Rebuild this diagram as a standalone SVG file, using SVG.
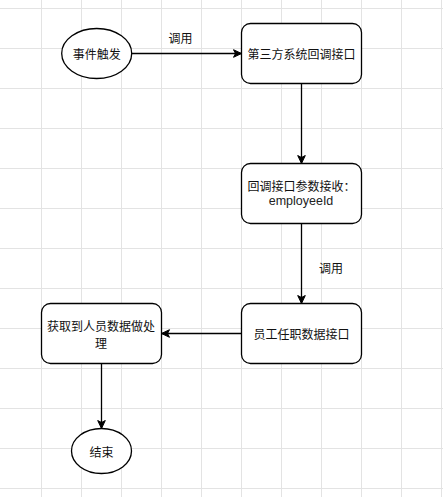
<svg xmlns="http://www.w3.org/2000/svg" width="443" height="497" viewBox="0 0 443 497">
  <style>
    .grid line { stroke: #e3e3e3; stroke-width: 1; }
    .node { fill: #ffffff; stroke: #000000; stroke-width: 1.3; }
    .lbl { font-family: "Microsoft YaHei", "Noto Sans CJK SC", "Liberation Sans", sans-serif; font-size: 12px; fill: #111111; text-anchor: middle; dominant-baseline: central; }
    .en { font-family: "Liberation Sans", Arial, sans-serif; font-size: 12.5px; fill: #222222; }
    .edge { fill: none; stroke: #000000; stroke-width: 1.3; }
  </style>
  <defs>
    <marker id="arrow" markerUnits="userSpaceOnUse" markerWidth="10" markerHeight="10" viewBox="0 0 10 10" refX="9" refY="5" orient="auto">
      <path d="M1,1.2 L9,5 L1,8.8 L3,5 Z" fill="#000000" stroke="#000000" stroke-width="1"/>
    </marker>
  </defs>
  <rect width="443" height="497" fill="#ffffff"/>
  <g class="grid">
    <line x1="41.5" y1="0" x2="41.5" y2="497"/>
    <line x1="81.5" y1="0" x2="81.5" y2="497"/>
    <line x1="121.5" y1="0" x2="121.5" y2="497"/>
    <line x1="161.5" y1="0" x2="161.5" y2="497"/>
    <line x1="201.5" y1="0" x2="201.5" y2="497"/>
    <line x1="241.5" y1="0" x2="241.5" y2="497"/>
    <line x1="281.5" y1="0" x2="281.5" y2="497"/>
    <line x1="321.5" y1="0" x2="321.5" y2="497"/>
    <line x1="361.5" y1="0" x2="361.5" y2="497"/>
    <line x1="401.5" y1="0" x2="401.5" y2="497"/>
    <line x1="441.5" y1="0" x2="441.5" y2="497"/>
    <line x1="0" y1="8.5" x2="443" y2="8.5"/>
    <line x1="0" y1="48.5" x2="443" y2="48.5"/>
    <line x1="0" y1="88.5" x2="443" y2="88.5"/>
    <line x1="0" y1="128.5" x2="443" y2="128.5"/>
    <line x1="0" y1="168.5" x2="443" y2="168.5"/>
    <line x1="0" y1="208.5" x2="443" y2="208.5"/>
    <line x1="0" y1="248.5" x2="443" y2="248.5"/>
    <line x1="0" y1="288.5" x2="443" y2="288.5"/>
    <line x1="0" y1="328.5" x2="443" y2="328.5"/>
    <line x1="0" y1="368.5" x2="443" y2="368.5"/>
    <line x1="0" y1="408.5" x2="443" y2="408.5"/>
    <line x1="0" y1="448.5" x2="443" y2="448.5"/>
    <line x1="0" y1="488.5" x2="443" y2="488.5"/>
  </g>
  <g id="connectors">
    <line class="edge" x1="131.7" y1="53.5" x2="241.5" y2="53.5" marker-end="url(#arrow)"/>
    <line class="edge" x1="301.5" y1="83.5" x2="301.5" y2="163.5" marker-end="url(#arrow)"/>
    <line class="edge" x1="301.5" y1="223.5" x2="301.5" y2="303.5" marker-end="url(#arrow)"/>
    <line class="edge" x1="241.5" y1="333.5" x2="161.5" y2="333.5" marker-end="url(#arrow)"/>
    <line class="edge" x1="101.5" y1="363.5" x2="101.5" y2="428.5" marker-end="url(#arrow)"/>
    <text class="lbl" x="180.5" y="37.5">调用</text>
    <text class="lbl" x="331" y="267.5">调用</text>
  </g>
  <g id="start">
    <ellipse class="node" cx="96.7" cy="53.5" rx="35" ry="25"/>
    <text class="lbl" x="96.7" y="53.5">事件触发</text>
  </g>
  <g id="callback">
    <rect class="node" x="241.5" y="23.5" width="120" height="60" rx="9" ry="9"/>
    <text class="lbl" x="301.5" y="53.5">第三方系统回调接口</text>
  </g>
  <g id="params">
    <rect class="node" x="241.5" y="163.5" width="120" height="60" rx="9" ry="9"/>
    <text class="lbl" x="301.5" y="185">回调接口参数接收：</text>
    <text class="lbl en" x="301" y="201">employeeId</text>
  </g>
  <g id="employee">
    <rect class="node" x="241.5" y="303.5" width="120" height="60" rx="9" ry="9"/>
    <text class="lbl" x="301.5" y="333">员工任职数据接口</text>
  </g>
  <g id="process">
    <rect class="node" x="41.5" y="303.5" width="120" height="60" rx="9" ry="9"/>
    <text class="lbl" x="101" y="325">获取到人员数据做处</text>
    <text class="lbl" x="101" y="342">理</text>
  </g>
  <g id="end">
    <ellipse class="node" cx="101.5" cy="451" rx="30" ry="22.5"/>
    <text class="lbl" x="101.5" y="451">结束</text>
  </g>
</svg>
